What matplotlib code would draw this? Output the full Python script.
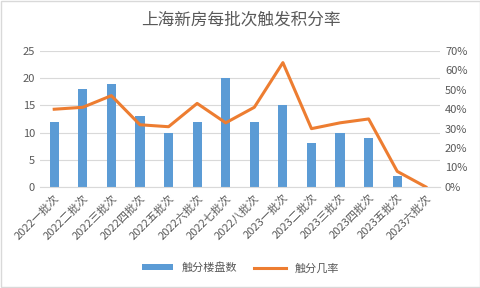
import matplotlib.pyplot as plt
import numpy as np
from matplotlib.ticker import FuncFormatter

plt.rcParams['font.family'] = ['Noto Sans CJK SC', 'DejaVu Sans']

labels = ['2022一批次', '2022二批次', '2022三批次', '2022四批次', '2022五批次',
          '2022六批次', '2022七批次', '2022八批次', '2023一批次', '2023二批次',
          '2023三批次', '2023四批次', '2023五批次', '2023六批次']
counts = [12, 18, 19, 13, 10, 12, 20, 12, 15, 8, 10, 9, 2, 0]
rates = [40, 41, 47, 32, 31, 43, 33, 41, 64, 30, 33, 35, 8, 0]

grey = '#595959'
fig = plt.figure(figsize=(4.81, 2.88), dpi=100)
fig.patches.append(plt.Rectangle((0.002, 0.003), 0.996, 0.994, transform=fig.transFigure,
                                 fill=False, edgecolor='#d9d9d9', linewidth=1))
ax = fig.add_axes([0.083, 0.351, 0.832, 0.472])
x = np.arange(len(labels))
b = ax.bar(x, counts, width=0.32, color='#5B9BD5', label='触分楼盘数', zorder=2)
ax.set_ylim(0, 25)
ax.set_xlim(-0.5, len(labels) - 0.5)
ax.set_yticks(range(0, 26, 5))
ax.grid(axis='y', color='#d9d9d9', linewidth=0.8, zorder=0)
for s in ax.spines.values():
    s.set_visible(False)
ax.spines['bottom'].set_visible(True)
ax.spines['bottom'].set_color('#d9d9d9')
ax.tick_params(length=0, colors=grey, labelsize=8)
ax.tick_params(axis='x', pad=4)
ax.set_xticks(x)
ax.set_xticklabels(labels, rotation=45, ha='right', rotation_mode='anchor', fontsize=8)

ax2 = ax.twinx()
l, = ax2.plot(x, rates, color='#ED7D31', linewidth=2.2, label='触分几率', zorder=3)
ax2.set_ylim(0, 70)
ax2.set_yticks(range(0, 71, 10))
ax2.yaxis.set_major_formatter(FuncFormatter(lambda v, p: f'{int(v)}%'))
for s in ax2.spines.values():
    s.set_visible(False)
ax2.tick_params(length=0, colors=grey, labelsize=8)

fig.text(0.5, 0.93, '上海新房每批次触发积分率', ha='center', va='center', fontsize=12, color=grey)
fig.legend([b, l], ['触分楼盘数', '触分几率'], loc='center', bbox_to_anchor=(0.5, 0.07),
           ncol=2, frameon=False, fontsize=8, labelcolor=grey, handlelength=2.8,
           columnspacing=1.5, handleheight=0.5)

fig.savefig('out.png', dpi=100)
